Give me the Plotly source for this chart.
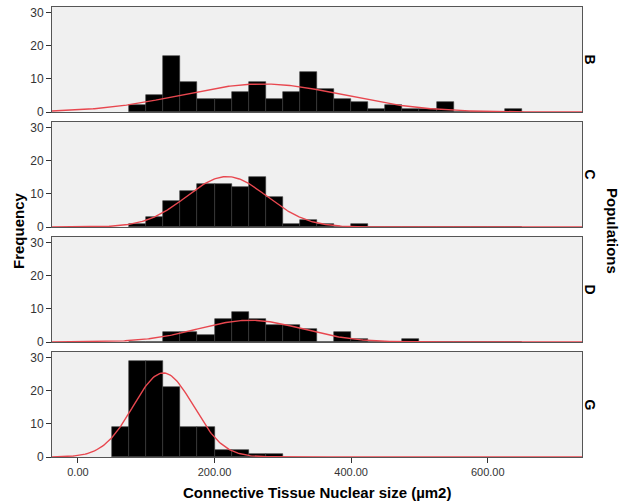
import numpy as np
import plotly.graph_objects as go

# ---- data ----
populations = ["B", "C", "D", "G"]
bin_width = 25
bin_starts = [75, 100, 125, 150, 175, 200, 225, 250, 275, 300, 325, 350, 375, 400,
              425, 450, 475, 500, 525, 550, 575, 600, 625]
counts_B = [2, 5, 17, 9, 4, 4, 6, 9, 4, 6, 12, 7, 4, 3, 1, 2, 1, 1, 3, 0, 0, 0, 1]
counts_C = [1, 3, 8, 11, 13, 13, 12, 15, 9, 1, 2, 1, 0, 1, 0, 0, 0, 0, 0, 0, 0, 0, 0]
counts_D = [0, 0, 3, 3, 2, 7, 9, 7, 5, 5, 4, 0, 3, 1, 0, 0, 1, 0, 0, 0, 0, 0, 0]
g_bin_starts = [50, 75, 100, 125, 150, 175, 200, 225, 250, 275]
counts_G = [9, 29, 29, 21, 9, 9, 2, 2, 1, 1]

# normal-curve parameters (mean, sd)
curve_mean = [270, 218, 252, 125]
curve_sd = [119, 59, 76, 44]

x_ticks = [0, 200, 400, 600]
x_tick_labels = ["0.00", "200.00", "400.00", "600.00"]
y_ticks = [0, 10, 20, 30]

series = [(bin_starts, counts_B), (bin_starts, counts_C), (bin_starts, counts_D),
          (g_bin_starts, counts_G)]

# ---- layout geometry ----
W, H = 623, 501
ml, mr, mt, mb = 52, 41, 7, 44
panel_h, gap = 105, 10
plot_h = H - mt - mb
plot_w = W - ml - mr

FONT = "Liberation Sans, Arial"

fig = go.Figure()
x_range = [-38, 738]
y_range = [0, 31.7]
xs = np.linspace(x_range[0], x_range[1], 400)

for i, ((starts, cnts), mu, sd) in enumerate(zip(series, curve_mean, curve_sd)):
    n = i + 1
    xa = "x" if n == 1 else f"x{n}"
    ya = "y" if n == 1 else f"y{n}"
    centers = [s + bin_width / 2 for s in starts]
    fig.add_trace(go.Bar(
        x=centers, y=cnts, width=bin_width, xaxis=xa, yaxis=ya,
        marker=dict(color="black", line=dict(color="#3a3a3a", width=0.6)),
        showlegend=False, hoverinfo="x+y"))
    N = sum(cnts)
    ys = N * bin_width / (sd * np.sqrt(2 * np.pi)) * np.exp(-0.5 * ((xs - mu) / sd) ** 2)
    fig.add_trace(go.Scatter(
        x=xs, y=ys, mode="lines", xaxis=xa, yaxis=ya,
        line=dict(color="#E8474F", width=1.4), showlegend=False, hoverinfo="skip"))

    top_px = mt + i * (panel_h + gap)
    bot_px = top_px + panel_h
    dom = [1 - (bot_px - mt) / plot_h, 1 - (top_px - mt) / plot_h]
    last = (n == 4)
    fig.update_layout(**{
        ("xaxis" if n == 1 else f"xaxis{n}"): dict(
            domain=[0, 1], range=x_range, anchor=ya,
            showline=True, linecolor="#555555", linewidth=1, mirror=True,
            showgrid=False, zeroline=False,
            tickmode="array", tickvals=x_ticks, ticktext=x_tick_labels,
            showticklabels=last, ticks="outside" if last else "",
            ticklen=5, tickcolor="#333333",
            tickfont=dict(family=FONT, size=11, color="#333333"),
            matches="x" if n != 1 else None),
        ("yaxis" if n == 1 else f"yaxis{n}"): dict(
            domain=dom, range=y_range, anchor=xa,
            showline=True, linecolor="#555555", linewidth=1, mirror=True,
            showgrid=False, zeroline=False,
            tickmode="array", tickvals=y_ticks, ticks="outside", ticklen=5,
            tickcolor="#333333",
            tickfont=dict(family=FONT, size=12, color="#333333")),
    })
    fig.add_annotation(
        text=f"<b>{populations[i]}</b>", xref="paper", yref="paper",
        x=(590 - ml) / plot_w, y=(dom[0] + dom[1]) / 2,
        xanchor="center", yanchor="middle",
        textangle=90, showarrow=False,
        font=dict(family=FONT, size=14, color="black"))

fig.add_annotation(
    text="<b>Populations</b>", xref="paper", yref="paper",
    x=(613 - ml) / plot_w, y=1 - (231 - mt) / plot_h,
    xanchor="center", yanchor="middle",
    textangle=90, showarrow=False,
    font=dict(family=FONT, size=15, color="black"))
fig.add_annotation(
    text="<b>Frequency</b>", xref="paper", yref="paper",
    x=(18 - ml) / plot_w, y=1 - (231 - mt) / plot_h,
    xanchor="center", yanchor="middle",
    textangle=-90, showarrow=False,
    font=dict(family=FONT, size=15, color="black"))
fig.add_annotation(
    text="<b>Connective Tissue Nuclear size (µm2)</b>", xref="paper", yref="paper",
    x=(317 - ml) / plot_w, y=-(492 - (H - mb)) / plot_h,
    xanchor="center", yanchor="middle",
    showarrow=False,
    font=dict(family=FONT, size=15, color="black"))

fig.update_layout(
    width=W, height=H,
    margin=dict(l=ml, r=mr, t=mt, b=mb),
    paper_bgcolor="white", plot_bgcolor="#F0F0F0",
    bargap=0, barmode="overlay",
)

fig.write_html("out.html")
